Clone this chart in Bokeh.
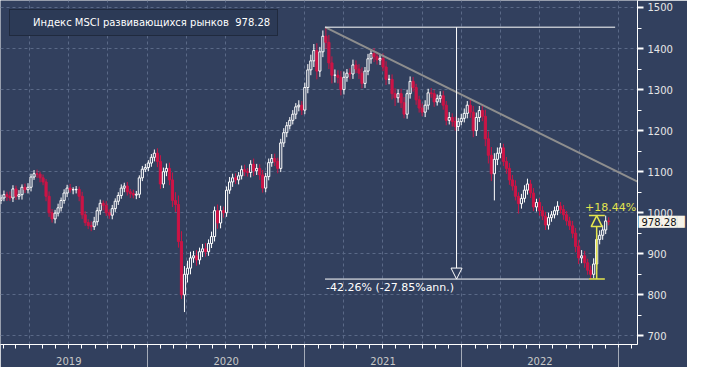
import pandas as pd
from bokeh.plotting import figure
from bokeh.models import (Range1d, LinearAxis, DatetimeAxis, FixedTicker, DatetimeTickFormatter,
                          Grid, ColumnDataSource, Label, Arrow, NormalHead, Legend, LegendItem)
from bokeh.embed import file_html
from bokeh.resources import INLINE

# ---------------- data ----------------
series_name = "Индекс MSCI развивающихся рынков"
last_value = 978.28
first_week = "2019-01-25"          # first weekly candle (Friday)
first_open = 1030

closes = [
    1036, 1044, 1040, 1036, 1058, 1040, 1044, 1062, 1056, 1062,
    1087, 1095, 1094, 1085, 1075, 1040, 1000, 985, 999, 1012,
    1030, 1048, 1060, 1056, 1056, 1057, 1040, 995, 976, 969,
    966, 978, 1005, 1023, 1018, 1000, 994, 1010, 1028, 1042,
    1060, 1065, 1051, 1047, 1043, 1045, 1085, 1106, 1110, 1121,
    1135, 1145, 1125, 1070, 1100, 1108, 1080, 1030, 1020, 930,
    800, 850, 865, 890, 895, 885, 905, 912, 905, 925,
    942, 1005, 975, 1005, 1000, 1055, 1075, 1085, 1080, 1090,
    1105, 1100, 1098, 1118, 1102, 1108, 1092, 1060, 1088, 1122,
    1132, 1125, 1108, 1170, 1195, 1212, 1225, 1240, 1258, 1262,
    1250, 1305, 1348, 1370, 1395, 1345, 1392, 1430, 1415, 1365,
    1335, 1335, 1330, 1300, 1330, 1340, 1338, 1360, 1350, 1340,
    1315, 1345, 1375, 1388, 1380, 1372, 1376, 1355, 1325, 1325,
    1290, 1280, 1290, 1268, 1240, 1290, 1320, 1305, 1275, 1255,
    1245, 1262, 1292, 1290, 1270, 1278, 1285, 1262, 1225, 1232,
    1222, 1210, 1222, 1230, 1242, 1262, 1245, 1200, 1232, 1249,
    1235, 1180, 1140, 1095, 1130, 1145, 1158, 1125, 1108, 1080,
    1065, 1040, 1022, 1035, 1055, 1070, 1048, 1014, 1025, 1005,
    992, 970, 988, 995, 1005, 1016, 1008, 995, 980, 968,
    950, 918, 890, 895, 878, 860, 850, 875, 935, 945,
    958, 980, 978.28,
]

wick_up = [
    8, 10, 7, 12, 9, 8, 11, 7, 9, 10,
    8, 9, 10, 6, 8, 7, 12, 9, 8, 10,
    7, 9, 8, 10, 6, 8, 7, 11, 9, 8,
    10, 12, 8, 9, 7, 10, 8, 9, 7, 8,
    9, 8, 10, 7, 9, 8, 6, 8, 9, 7,
    8, 9, 12, 15, 10, 12, 14, 18, 20, 22,
    25, 20, 18, 15, 12, 14, 10, 12, 14, 10,
    12, 10, 15, 12, 10, 9, 12, 10, 11, 9,
    10, 12, 9, 10, 14, 11, 10, 12, 9, 10,
    11, 12, 9, 10, 11, 9, 8, 10, 9, 12,
    10, 12, 14, 15, 16, 18, 12, 14, 22, 18,
    16, 14, 12, 15, 14, 10, 12, 13, 11, 12,
    14, 10, 12, 11, 13, 12, 10, 12, 14, 11,
    12, 13, 10, 12, 14, 10, 12, 11, 9, 10,
    11, 12, 10, 12, 9, 10, 11, 12, 10, 13,
    10, 12, 9, 11, 12, 10, 13, 15, 12, 11,
    14, 16, 18, 20, 15, 14, 12, 10, 11, 13,
    12, 14, 10, 11, 12, 13, 10, 12, 9, 10,
    11, 10, 12, 9, 10, 12, 10, 11, 9, 10,
    12, 13, 15, 14, 12, 10, 11, 14, 16, 12,
    11, 13, 9,
]

wick_dn = [
    9, 8, 11, 7, 10, 9, 8, 12, 8, 9,
    10, 7, 9, 11, 8, 12, 10, 9, 11, 8,
    9, 8, 10, 7, 11, 9, 12, 10, 8, 9,
    11, 8, 9, 10, 12, 8, 9, 10, 8, 9,
    8, 10, 9, 11, 8, 10, 9, 8, 7, 9,
    9, 10, 14, 12, 10, 11, 13, 16, 18, 15,
    10, 42, 20, 15, 12, 14, 11, 13, 12, 10,
    11, 12, 14, 13, 12, 10, 9, 12, 10, 11,
    9, 11, 10, 12, 13, 10, 12, 11, 10, 9,
    10, 11, 12, 9, 10, 11, 9, 10, 12, 11,
    12, 10, 14, 13, 15, 20, 14, 13, 16, 15,
    20, 18, 15, 14, 12, 11, 13, 12, 10, 14,
    12, 11, 10, 12, 13, 11, 12, 10, 14, 12,
    14, 20, 12, 13, 10, 11, 12, 10, 12, 11,
    10, 12, 11, 10, 12, 9, 10, 11, 12, 10,
    12, 10, 11, 9, 10, 12, 14, 16, 13, 11,
    12, 18, 20, 18, 65, 14, 12, 11, 13, 12,
    11, 10, 24, 12, 10, 11, 12, 10, 11, 12,
    10, 12, 11, 10, 9, 11, 10, 12, 11, 10,
    12, 14, 15, 13, 12, 11, 12, 10, 13, 12,
    11, 10, 9,
]

# drawdown / rebound annotation values
peak_date = "2021-02-17"
peak_value = 1452
trough_date = "2022-10-24"
trough_value = 838.4
rebound_top = 993.0
drop_text = "-42.26% (-27.85%ann.)"
rebound_text = "+18.44%"
drop_line_date = "2021-12-20"
top_line_end = "2022-12-24"
rebound_date = "2022-11-11"
rebound_cap_end = "2022-11-30"
trend_end_date = "2023-02-14"
trend_end_value = 1076

y_ticks = [700, 800, 900, 1000, 1100, 1200, 1300, 1400, 1500]
y_minor = [750, 850, 950, 1050, 1150, 1250, 1350, 1450]
year_labels_at = ["2019-07-02", "2020-07-02", "2021-07-02", "2022-07-02"]
year_starts = ["2020-01-01", "2021-01-01", "2022-01-01", "2023-01-01"]

# ---------------- styling ----------------
BG = "#32405e"
GRID = "#5a6987"
UP = "#ffffff"
DOWN = "#cc1446"
YEL = "#e4e44e"
TAG_BG = "#f6f3ea"
FONT = "DejaVu Sans"


def ms(d):
    return pd.Timestamp(d).value / 1e6


dates = pd.date_range(first_week, periods=len(closes), freq="7D")
opens = [first_open] + closes[:-1]
tops = [max(o, c) for o, c in zip(opens, closes)]
bots = [min(o, c) for o, c in zip(opens, closes)]
highs = [t + w for t, w in zip(tops, wick_up)]
lows = [b - w for b, w in zip(bots, wick_dn)]
is_up = [c >= o for o, c in zip(opens, closes)]

src = ColumnDataSource(dict(
    x=dates, top=tops, bottom=bots, high=highs, low=lows,
    line=[UP if u else DOWN for u in is_up],
    fill=[BG if u else DOWN for u in is_up],
))

p = figure(width=687, height=367,
           x_range=Range1d(ms("2019-01-24"), ms("2023-02-14")),
           y_range=Range1d(679, 1517),
           x_axis_type="datetime", x_axis_location=None, y_axis_location=None,
           toolbar_location=None, output_backend="svg",
           background_fill_color=BG, border_fill_color=BG,
           outline_line_color=None, min_border=0)
for g in p.grid:
    g.visible = False

# grids
ygrid = Grid(dimension=1, ticker=FixedTicker(ticks=y_ticks),
             grid_line_color=GRID, grid_line_dash="3 3", grid_line_width=1)
quarters = [ts.value / 1e6 for ts in pd.date_range("2019-04-01", "2023-01-01", freq="QS")]
xgrid = Grid(dimension=0, ticker=FixedTicker(ticks=quarters),
             grid_line_color=GRID, grid_line_dash="3 3", grid_line_width=1)
p.add_layout(ygrid)
p.add_layout(xgrid)

# candles
p.segment(x0="x", y0="low", x1="x", y1="high", line_color="line", line_width=1, source=src)
p.vbar(x="x", width=5 * 86400000, top="top", bottom="bottom",
       fill_color="fill", line_color="line", line_width=1, source=src)

# trend line
p.segment(x0=[ms(peak_date)], y0=[peak_value], x1=[ms(trend_end_date)], y1=[trend_end_value],
          line_color="#8e8e8e", line_width=2)

# drawdown lines
p.segment(x0=[ms(peak_date), ms(peak_date)], y0=[peak_value, trough_value],
          x1=[ms(top_line_end), ms(trough_date)], y1=[peak_value, trough_value],
          line_color="white", line_width=1)
p.add_layout(Arrow(end=NormalHead(size=11, fill_color=None, line_color="white", line_width=1),
                   x_start=ms(drop_line_date), y_start=peak_value,
                   x_end=ms(drop_line_date), y_end=trough_value,
                   line_color="white", line_width=1))
p.add_layout(Label(x=ms(peak_date), y=trough_value, text=drop_text, text_color="white",
                   text_font=FONT, text_font_size="11px", text_baseline="top",
                   x_offset=1, y_offset=-2))

# rebound
p.segment(x0=[ms(trough_date), ms(trough_date)], y0=[trough_value, rebound_top],
          x1=[ms(rebound_cap_end), ms(rebound_cap_end)], y1=[trough_value, rebound_top],
          line_color=YEL, line_width=1.5)
p.add_layout(Arrow(end=NormalHead(size=11, fill_color=None, line_color=YEL, line_width=1.5),
                   x_start=ms(rebound_date), y_start=trough_value,
                   x_end=ms(rebound_date), y_end=rebound_top,
                   line_color=YEL, line_width=1.5))
p.add_layout(Label(x=ms(trough_date), y=rebound_top, text=rebound_text, text_color=YEL,
                   text_font=FONT, text_font_size="11px", text_baseline="bottom",
                   x_offset=-4, y_offset=2))

# right axis
yaxis = LinearAxis(ticker=FixedTicker(ticks=y_ticks, minor_ticks=y_minor))
yaxis.axis_line_color = "white"
yaxis.major_tick_line_color = "white"
yaxis.major_tick_line_width = 2
yaxis.minor_tick_line_color = "white"
yaxis.major_tick_in = 0
yaxis.major_tick_out = 6
yaxis.minor_tick_in = 0
yaxis.minor_tick_out = 4
yaxis.major_label_text_color = "#e6e6e6"
yaxis.major_label_text_font = FONT
yaxis.major_label_text_font_size = "10px"
yaxis.major_label_standoff = 4
p.add_layout(yaxis, "right")

# last-value tag: box (block glyphs) + text, as extra right axes pulled back next to the axis line
tag_box = LinearAxis(ticker=FixedTicker(ticks=[last_value], minor_ticks=[]))
tag_box.major_label_overrides = {last_value: "\u2588" * 6}
tag_txt = LinearAxis(ticker=FixedTicker(ticks=[last_value], minor_ticks=[]))
tag_txt.major_label_overrides = {last_value: f"{last_value:.2f}"}
for ax, col in ((tag_box, TAG_BG), (tag_txt, "#111111")):
    ax.axis_line_color = None
    ax.major_tick_in = 0
    ax.major_tick_out = 0
    ax.minor_tick_in = 0
    ax.minor_tick_out = 0
    ax.major_label_text_color = col
    ax.major_label_text_font = FONT
    ax.major_label_text_font_size = "10px"
tag_box.major_label_standoff = -37
tag_txt.major_label_standoff = -46
p.add_layout(tag_box, "right")
p.add_layout(tag_txt, "right")

# bottom axis: year labels + monthly minor ticks
months = [ts.value / 1e6 for ts in pd.date_range("2019-02-01", "2023-02-01", freq="MS")]
fmt = DatetimeTickFormatter(years="%Y", months="%Y", days="%Y", hours="%Y",
                            hourmin="%Y", minutes="%Y", minsec="%Y", seconds="%Y",
                            milliseconds="%Y", microseconds="%Y")
xaxis = DatetimeAxis(ticker=FixedTicker(ticks=[ms(d) for d in year_labels_at], minor_ticks=months),
                     formatter=fmt)
xaxis.axis_line_color = "white"
xaxis.major_tick_in = 0
xaxis.major_tick_out = 0
xaxis.minor_tick_in = 0
xaxis.minor_tick_out = 4
xaxis.minor_tick_line_color = "white"
xaxis.major_label_text_color = "#c8c8c8"
xaxis.major_label_text_font = FONT
xaxis.major_label_text_font_size = "10px"
xaxis.major_label_standoff = 8
p.add_layout(xaxis, "below")

# year separators (tick marks only)
sep_ticks = [ms(d) for d in year_starts]
sep = LinearAxis(ticker=FixedTicker(ticks=sep_ticks, minor_ticks=[]))
sep.major_label_overrides = {t: "" for t in sep_ticks}
sep.axis_line_color = None
sep.major_tick_in = 20
sep.major_tick_out = 0
sep.minor_tick_in = 0
sep.minor_tick_out = 0
sep.major_tick_line_color = "#a4abb8"
sep.major_label_standoff = 0
p.add_layout(sep, "below")

# series legend
dummy = p.scatter(x=[], y=[], marker="square", size=10, fill_color="#fff0ee", line_color="#fff0ee")
legend = Legend(items=[LegendItem(label=f"{series_name}  {last_value:.2f}", renderers=[dummy])],
                location="top_left", margin=9, padding=7, glyph_width=10, glyph_height=10,
                label_standoff=6, label_text_color="white", label_text_font=FONT,
                label_text_font_size="10px", background_fill_color="#2c3a56",
                background_fill_alpha=1.0, border_line_color="#141a26", border_line_width=1)
p.add_layout(legend)

open("out.html", "w").write(file_html(p, INLINE))
